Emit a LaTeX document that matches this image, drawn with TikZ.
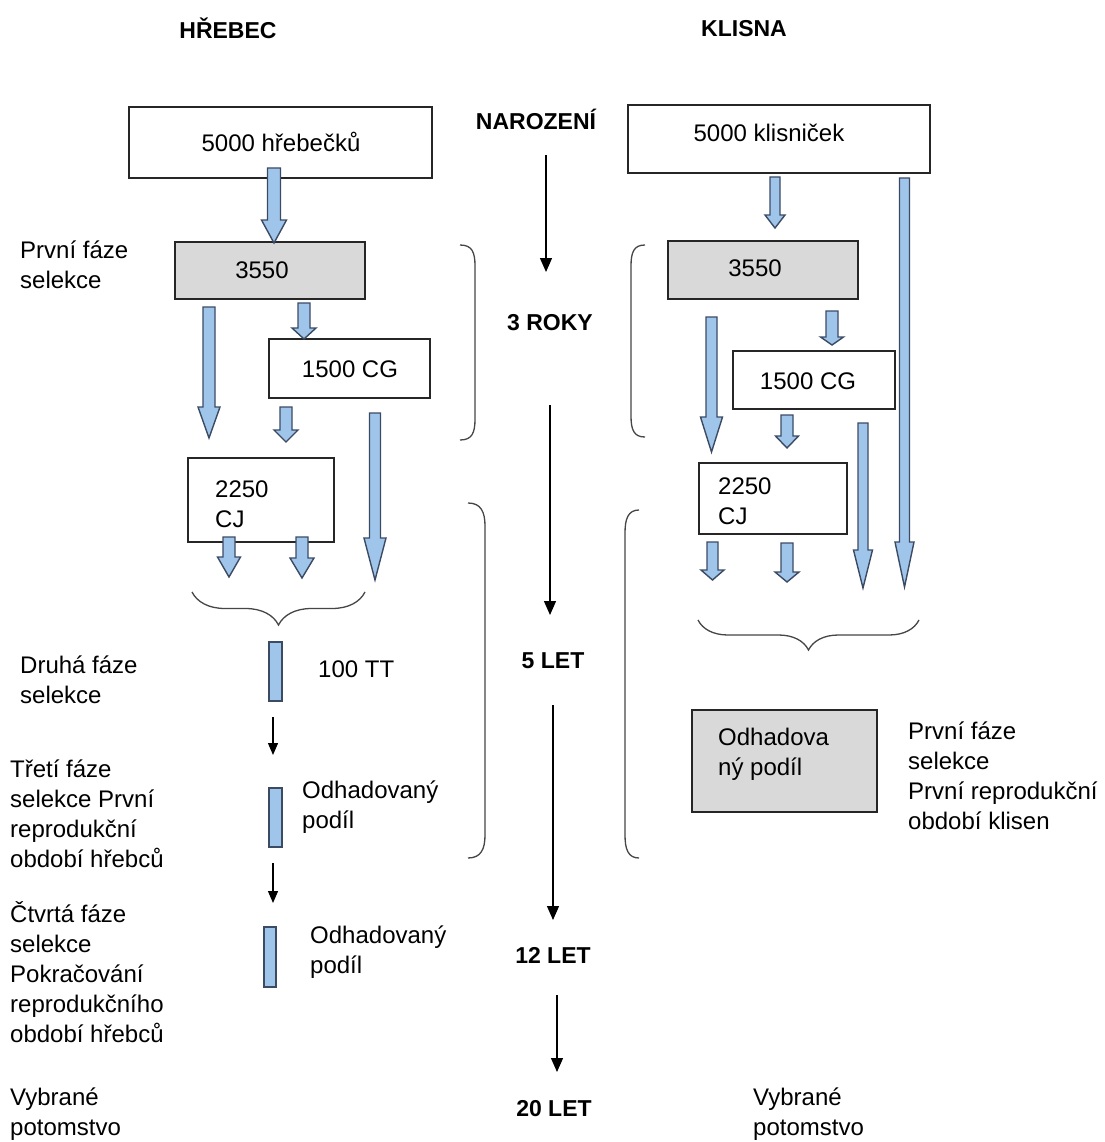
\documentclass[tikz,border=0pt]{standalone}
\usepackage{fontspec}
\setmainfont{Liberation Sans}
\usetikzlibrary{arrows.meta,decorations.pathreplacing}
\definecolor{arrfill}{RGB}{160,197,235}
\definecolor{arrline}{RGB}{60,75,100}
\definecolor{boxgray}{RGB}{217,217,217}
\definecolor{brk}{RGB}{70,70,70}
\newcommand{\blkarrow}[6]{% x, ytop, ybot, head length, head half width, shaft half width
  \draw[blockarr] ({#1-#6},#2) -- ({#1+#6},#2) -- ({#1+#6},{#3-#4}) -- ({#1+#5},{#3-#4})
    -- (#1,#3) -- ({#1-#5},{#3-#4}) -- ({#1-#6},{#3-#4}) -- cycle;}
\begin{document}
\begin{tikzpicture}[x=1pt,y=-1pt,
  every node/.style={font=\fontsize{24}{30}\selectfont, inner sep=0pt},
  hdr/.style={font=\fontsize{23}{30}\selectfont\bfseries, anchor=base},
  ctext/.style={anchor=base},
  lt/.style={align=left, anchor=base west},
  wbox/.style={draw=black!85, line width=1.3pt, fill=white},
  gbox/.style={wbox, fill=boxgray},
  blockarr/.style={draw=arrline, line width=1.4pt, fill=arrfill, line join=miter},
  bar/.style={draw=arrline, line width=1.4pt, fill=arrfill},
  tarr/.style={draw=black, line width=1.3pt, -{Triangle[width=12pt,length=14pt]}},
  sarr/.style={draw=black, line width=1.3pt, -{Triangle[width=10pt,length=12pt]}},
  paren/.style={draw=brk, line width=1.3pt},
  bracestyle/.style={draw=brk, line width=1.3pt, decorate},
]
\useasboundingbox[fill=white] (0,0) rectangle (1104,1142);

% headers
\node[hdr] (hrebec) at (228,39) {HŘEBEC};
\node[hdr] (klisna) at (744,37) {KLISNA};

% centre time line
\node[hdr] (narozeni) at (536,130) {NAROZENÍ};
\node[hdr] (roky3) at (550,330) {3 ROKY};
\node[hdr] (let5) at (553,668) {5 LET};
\node[hdr] (let12) at (553,963) {12 LET};
\node[hdr] (let20) at (554,1116) {20 LET};
\coordinate (c1a) at (546,155); \coordinate (c1b) at (546,272);
\coordinate (c2a) at (550,405); \coordinate (c2b) at (550,615);
\coordinate (c3a) at (553,705); \coordinate (c3b) at (553,920);
\coordinate (c4a) at (557,995); \coordinate (c4b) at (557,1072);
\draw[tarr] (c1a) -- (c1b);
\draw[tarr] (c2a) -- (c2b);
\draw[tarr] (c3a) -- (c3b);
\draw[tarr] (c4a) -- (c4b);

% parentheses
\draw[paren] (460,245) .. controls (472,245) and (475,252) .. (475,266) -- (475,419) .. controls (475,433) and (472,440) .. (460,440);
\draw[paren] (468,503) .. controls (481,503) and (485,512) .. (485,526) -- (485,835) .. controls (485,849) and (481,858) .. (468,858);
\draw[paren] (645,245) .. controls (634,245) and (631,252) .. (631,266) -- (631,416) .. controls (631,430) and (634,437) .. (645,437);
\draw[paren] (639,510) .. controls (628,510) and (625,519) .. (625,533) -- (625,835) .. controls (625,849) and (628,858) .. (639,858);

% left column boxes
\node[wbox, minimum width=303pt, minimum height=71pt] (h5000) at (280.5,142.5) {};
\node[gbox, minimum width=190pt, minimum height=57pt] (h3550) at (270,270.5) {};
\node[wbox, minimum width=161pt, minimum height=59pt] (h1500) at (349.5,368.5) {};
\node[wbox, minimum width=146pt, minimum height=84pt] (h2250) at (261,500) {};
\node[ctext] (th5000) at (281,152) {5000 hřebečků};
\node[ctext] (th3550) at (262,278) {3550};
\node[ctext] (th1500) at (350,377) {1500 CG};
\node[lt] (th2250) at (215,527) {2250\\CJ};

% right column boxes
\node[wbox, minimum width=302pt, minimum height=68pt] (k5000) at (779,139) {};
\node[gbox, minimum width=190pt, minimum height=58pt] (k3550) at (763,270) {};
\node[wbox, minimum width=162pt, minimum height=58pt] (k1500) at (814,380) {};
\node[wbox, minimum width=148pt, minimum height=71pt] (k2250) at (773,498.5) {};
\node[gbox, minimum width=185pt, minimum height=102pt] (kodh) at (784.5,761) {};
\node[ctext] (tk5000) at (769,142) {5000 klisniček};
\node[ctext] (tk3550) at (755,276) {3550};
\node[ctext] (tk1500) at (808,389) {1500 CG};
\node[lt] (tk2250) at (718,524) {2250\\CJ};
\node[lt] (tkodh) at (718,775) {Odhadova\\ný podíl};

% block arrows, left
\blkarrow{274}{168}{243}{23}{12.5}{6.5}
\blkarrow{209}{307}{438}{31}{11}{6}
\blkarrow{304}{303}{339}{11}{12}{6}
\blkarrow{286}{407}{442}{12}{12}{6}
\blkarrow{375}{413}{580}{42}{11}{5.5}
\blkarrow{229}{537}{577}{20}{11.5}{6}
\blkarrow{302}{537}{578}{20}{12}{6}
% block arrows, right
\blkarrow{775}{177}{228}{13}{10}{5}
\blkarrow{904.5}{178}{587}{45}{9.5}{5}
\blkarrow{711.5}{317}{452}{35}{11}{5.5}
\blkarrow{832}{311}{345}{8}{11.5}{6}
\blkarrow{787}{415}{448}{12}{11.5}{6}
\blkarrow{863}{423}{588}{38}{9.5}{5}
\blkarrow{712.5}{542}{580}{10}{11.5}{5.5}
\blkarrow{787}{543}{582}{10}{12}{6}

% braces
\draw[bracestyle, decoration={brace, amplitude=33pt}] (365,592) -- (192,592);
\draw[bracestyle, decoration={brace, amplitude=30pt}] (919,620) -- (698,620);

% bars and thin arrows (left)
\node[bar, minimum width=13pt, minimum height=59pt] (bar1) at (275.5,671.5) {};
\node[bar, minimum width=13pt, minimum height=59pt] (bar2) at (275.5,817.5) {};
\node[bar, minimum width=12pt, minimum height=60pt] (bar3) at (270,957) {};
\coordinate (s1a) at (273,717); \coordinate (s1b) at (273,755);
\coordinate (s2a) at (273,863); \coordinate (s2b) at (273,903);
\draw[sarr] (s1a) -- (s1b);
\draw[sarr] (s2a) -- (s2b);
\node[lt] (t100) at (318,677) {100 TT};
\node[lt] (todh1) at (302,828) {Odhadovaný\\podíl};
\node[lt] (todh2) at (310,973) {Odhadovaný\\podíl};

% left labels
\node[lt] (l1) at (20,288) {První fáze\\selekce};
\node[lt] (l2) at (20,703) {Druhá fáze\\selekce};
\node[lt] (l3) at (10,867) {Třetí fáze\\selekce První\\reprodukční\\období hřebců};
\node[lt] (l4) at (10,1042) {Čtvrtá fáze\\selekce\\Pokračování\\reprodukčního\\období hřebců};
\node[lt] (l5) at (10,1135) {Vybrané\\potomstvo};

% right labels
\node[lt] (r1) at (908,829) {První fáze\\selekce\\První reprodukční\\období klisen};
\node[lt] (r2) at (753,1135) {Vybrané\\potomstvo};
\end{tikzpicture}
\end{document}
